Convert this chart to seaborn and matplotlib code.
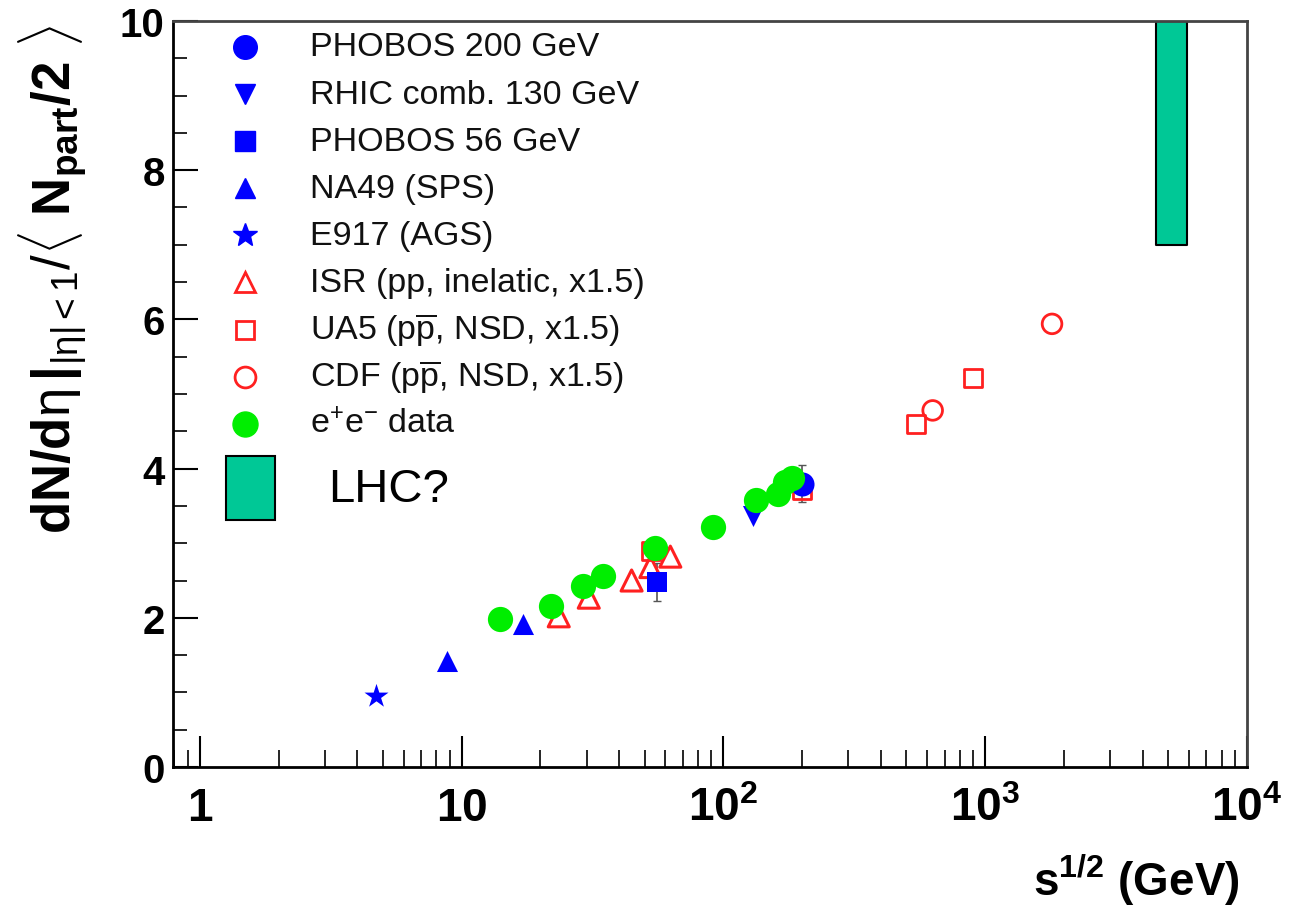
import numpy as np
import matplotlib
matplotlib.use("Agg")
import matplotlib.pyplot as plt
from matplotlib.markers import MarkerStyle
from matplotlib.patches import Rectangle
from matplotlib.lines import Line2D
import seaborn as sns

# ---------------- data ----------------
phobos200_x = [200.0]
phobos200_y = [3.80]
phobos200_err = [0.25]

rhic130_x = [130.0]
rhic130_y = [3.37]

phobos56_x = [56.0]
phobos56_y = [2.48]
phobos56_err = [0.25]

na49_x = [8.8, 17.2]
na49_y = [1.42, 1.92]

e917_x = [4.7]
e917_y = [0.95]

isr_x = [23.5, 30.6, 44.6, 52.6, 62.7]
isr_y = [2.02, 2.27, 2.50, 2.68, 2.82]

ua5_x = [53.0, 200.0, 546.0, 900.0]
ua5_y = [2.90, 3.72, 4.60, 5.22]

cdf_x = [630.0, 1800.0]
cdf_y = [4.78, 5.94]

ee_x = [14.0, 22.0, 29.0, 34.8, 55.0, 91.2, 133.0, 161.0, 172.0, 183.0]
ee_y = [1.98, 2.16, 2.42, 2.56, 2.93, 3.22, 3.58, 3.66, 3.82, 3.88]

lhc_x = [4500.0, 5900.0]
lhc_y = [7.0, 10.0]

x_ticks = [1, 10, 100, 1000, 10000]
x_ticklabels = [r"$\mathbf{1}$", r"$\mathbf{10}$", r"$\mathbf{10^{2}}$",
                r"$\mathbf{10^{3}}$", r"$\mathbf{10^{4}}$"]
y_ticks = [0, 2, 4, 6, 8, 10]

legend_labels = [
    "PHOBOS 200 GeV",
    "RHIC comb. 130 GeV",
    "PHOBOS 56 GeV",
    "NA49 (SPS)",
    "E917 (AGS)",
    "ISR (pp, inelatic, x1.5)",
    r"UA5 (p$\mathrm{\overline{p}}$, NSD, x1.5)",
    r"CDF (p$\mathrm{\overline{p}}$, NSD, x1.5)",
    r"e$^{+}$e$^{-}$ data",
]

# ---------------- style ----------------
sns.set_style("ticks")
plt.rcParams["font.family"] = ["Liberation Sans", "DejaVu Sans"]
plt.rcParams["mathtext.fontset"] = "custom"
plt.rcParams["mathtext.rm"] = "Liberation Sans"
plt.rcParams["mathtext.it"] = "Liberation Sans:italic"
plt.rcParams["mathtext.bf"] = "Liberation Sans:bold"
plt.rcParams["mathtext.sf"] = "Liberation Sans"
plt.rcParams["text.color"] = "black"
plt.rcParams["axes.labelcolor"] = "black"
plt.rcParams["xtick.color"] = "black"
plt.rcParams["ytick.color"] = "black"

fig = plt.figure(figsize=(12.95, 9.12), dpi=100)
ax = fig.add_axes([173 / 1295, 1 - 768 / 912, (1247 - 173) / 1295, (768 - 22) / 912])

BLUE = "#0000ff"
RED = "#ff2020"
GREEN = "#00ee00"
TEAL = "#00c896"

# LHC band
ax.fill_between(lhc_x, [lhc_y[0]] * 2, [lhc_y[1]] * 2, facecolor=TEAL,
                edgecolor="black", linewidth=1.5, zorder=2)

# error bars
ax.errorbar(phobos200_x, phobos200_y, yerr=phobos200_err, fmt="none",
            ecolor="#555555", elinewidth=1.2, capsize=3, zorder=2)
ax.errorbar(phobos56_x, phobos56_y, yerr=phobos56_err, fmt="none",
            ecolor="#555555", elinewidth=1.2, capsize=3, zorder=2)

hollow_tri = MarkerStyle("^", fillstyle="none")
hollow_sq = MarkerStyle("s", fillstyle="none")
hollow_circ = MarkerStyle("o", fillstyle="none")

sns.scatterplot(x=ua5_x, y=ua5_y, marker=hollow_sq, color=RED, s=170,
                linewidth=2.0, ax=ax, zorder=3)
sns.scatterplot(x=isr_x, y=isr_y, marker=hollow_tri, color=RED, s=230,
                linewidth=2.2, ax=ax, zorder=3)
sns.scatterplot(x=cdf_x, y=cdf_y, marker=hollow_circ, color=RED, s=200,
                linewidth=2.0, ax=ax, zorder=3)
sns.scatterplot(x=phobos56_x, y=phobos56_y, marker="s", color=BLUE, s=220,
                edgecolor=BLUE, linewidth=0, ax=ax, zorder=4)
sns.scatterplot(x=na49_x, y=na49_y, marker="^", color=BLUE, s=230,
                edgecolor=BLUE, linewidth=0, ax=ax, zorder=4)
sns.scatterplot(x=e917_x, y=e917_y, marker="*", color=BLUE, s=330,
                edgecolor=BLUE, linewidth=0, ax=ax, zorder=4)
sns.scatterplot(x=rhic130_x, y=rhic130_y, marker="v", color=BLUE, s=230,
                edgecolor=BLUE, linewidth=0, ax=ax, zorder=4)
sns.scatterplot(x=phobos200_x, y=phobos200_y, marker="o", color=BLUE, s=300,
                edgecolor=BLUE, linewidth=0, ax=ax, zorder=4)
sns.scatterplot(x=ee_x, y=ee_y, marker="o", color=GREEN, s=330,
                edgecolor=GREEN, linewidth=0, ax=ax, zorder=5)

# ---------------- axes ----------------
ax.set_xscale("log")
ax.set_xlim(0.79, 1e4)
ax.set_ylim(0, 10)
ax.set_xticks(x_ticks)
ax.set_xticklabels(x_ticklabels)
ax.set_yticks(y_ticks)
ax.set_yticklabels([str(v) for v in y_ticks], fontweight="bold")
ax.xaxis.set_minor_locator(matplotlib.ticker.LogLocator(base=10, subs=np.arange(2, 10), numticks=20))
ax.xaxis.set_minor_formatter(matplotlib.ticker.NullFormatter())
ax.yaxis.set_minor_locator(matplotlib.ticker.MultipleLocator(0.5))
ax.tick_params(axis="x", which="major", direction="in", length=22, width=1.5,
               labelsize=33, pad=14, top=False)
ax.tick_params(axis="x", which="minor", direction="in", length=12, width=1.2, top=False)
ax.tick_params(axis="y", which="major", direction="in", length=18, width=1.5,
               labelsize=29, pad=6, right=False)
ax.tick_params(axis="y", which="minor", direction="in", length=10, width=1.2, right=False)
for sp in ax.spines.values():
    sp.set_linewidth(2.0)
    sp.set_color("black")
ax.spines["top"].set_color("#444444")
ax.spines["right"].set_color("#444444")

ax.set_xlabel(r"$\mathbf{s^{1/2}}$ (GeV)", fontsize=33, fontweight="bold")
ax.xaxis.set_label_coords(0.993, -0.113)
ax.xaxis.label.set_horizontalalignment("right")
ax.set_ylabel(r"$\mathbf{dN/d}\mathrm{\eta}\,\mathbf{|}_{|\mathrm{\eta}|<1}/\langle\ \mathbf{N_{part}/2}\ \rangle$",
              fontsize=38, va="center")
ax.yaxis.set_label_coords(-0.112, 0.655)

# ---------------- legend (drawn in axes coordinates) ----------------
leg_styles = [
    dict(marker="o", mfc=BLUE, mec=BLUE, ms=17),
    dict(marker="v", mfc=BLUE, mec=BLUE, ms=14),
    dict(marker="s", mfc=BLUE, mec=BLUE, ms=14),
    dict(marker="^", mfc=BLUE, mec=BLUE, ms=14),
    dict(marker="*", mfc=BLUE, mec=BLUE, ms=18),
    dict(marker="^", mfc="none", mec=RED, ms=15, mew=2),
    dict(marker="s", mfc="none", mec=RED, ms=13, mew=2),
    dict(marker="o", mfc="none", mec=RED, ms=15, mew=2),
    dict(marker="o", mfc=GREEN, mec=GREEN, ms=18),
]
ax_h = 768 - 22
ax_w = 1247 - 173
for i, (lab, st) in enumerate(zip(legend_labels, leg_styles)):
    ypix = 48 + i * 47.1
    yf = (768 - ypix) / ax_h
    ax.add_line(Line2D([(245 - 173) / ax_w], [yf], transform=ax.transAxes,
                       linestyle="none", marker=st["marker"],
                       markerfacecolor=st["mfc"], markeredgecolor=st["mec"],
                       markersize=st["ms"], markeredgewidth=st.get("mew", 1),
                       clip_on=False, zorder=6))
    ax.text((310 - 173) / ax_w, yf, lab, transform=ax.transAxes, fontsize=24.5,
            va="center", ha="left", color="#111111")

ax.add_patch(Rectangle(((226 - 173) / ax_w, (768 - 521) / ax_h), 49 / ax_w, 64 / ax_h,
                       transform=ax.transAxes, facecolor=TEAL, edgecolor="black",
                       linewidth=1.5, zorder=6))
ax.text((328 - 173) / ax_w, (768 - 490) / ax_h, "LHC?", transform=ax.transAxes,
        fontsize=34, va="center", ha="left", color="black")

fig.savefig("out.png", dpi=100)
